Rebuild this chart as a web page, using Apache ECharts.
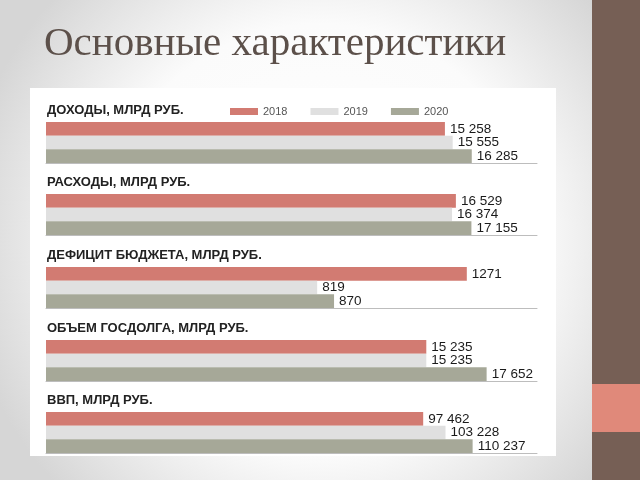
<!DOCTYPE html>
<html>
<head>
<meta charset="utf-8">
<script src="https://cdn.jsdelivr.net/npm/echarts@6/dist/echarts.min.js"></script>
<style>html,body{margin:0;padding:0;}#c{width:640px;height:480px;}</style>
</head>
<body>
<div id="c"></div>
<script>
const slideTitle = 'Основные характеристики';
const groupTitles = ['ДОХОДЫ, МЛРД РУБ.', 'РАСХОДЫ, МЛРД РУБ.', 'ДЕФИЦИТ БЮДЖЕТА, МЛРД РУБ.', 'ОБЪЕМ ГОСДОЛГА, МЛРД РУБ.', 'ВВП, МЛРД РУБ.'];
const years = ['2018', '2019', '2020'];
const values2018 = [15258, 16529, 1271, 15235, 97462];
const values2019 = [15555, 16374, 819, 15235, 103228];
const values2020 = [16285, 17155, 870, 17652, 110237];

const seriesValues = [values2018, values2019, values2020];
const colors = ['#D27B72', '#E0E0E0', '#A6A898'];
const axisMax = [18780, 19800, 1483, 19670, 126870];
const gridTops = [122, 194, 267, 340, 412];
const gridH = 41;

function fmt(v) {
  if (v < 10000) return String(v);
  return String(v).replace(/\B(?=(\d{3})+(?!\d))/g, ' ');
}

const grids = [], xAxes = [], yAxes = [], series = [], graphics = [];

graphics.push({ type: 'rect', z: -10, shape: { x: 30, y: 88, width: 526, height: 368 }, style: { fill: '#ffffff' } });
graphics.push({ type: 'rect', z: -10, shape: { x: 592, y: 0, width: 48, height: 480 }, style: { fill: '#765F55' } });
graphics.push({ type: 'rect', z: -9, shape: { x: 592, y: 384, width: 48, height: 48 }, style: { fill: '#E0897A' } });
graphics.push({ type: 'text', z: 10, style: { text: slideTitle, x: 44, y: 44, verticalAlign: 'middle', font: '41px "Liberation Serif", "Times New Roman", serif', fill: '#5c504a' } });

groupTitles.forEach((t, g) => {
  grids.push({ left: 46, right: 103, top: gridTops[g], height: gridH, containLabel: false });
  xAxes.push({
    gridIndex: g, type: 'value', min: 0, max: axisMax[g],
    axisLine: { show: true, lineStyle: { color: '#bdbdbd', width: 1 } },
    axisTick: { show: false }, axisLabel: { show: false }, splitLine: { show: false }
  });
  yAxes.push({
    gridIndex: g, type: 'category', data: [t], inverse: true,
    axisLine: { show: false }, axisTick: { show: false }, axisLabel: { show: false }
  });
  graphics.push({ type: 'text', z: 10, style: { text: t, x: 47, y: gridTops[g] - 12, verticalAlign: 'middle', font: 'bold 13px "Liberation Sans", Arial, sans-serif', fill: '#222222' } });
  years.forEach((y, k) => {
    series.push({
      name: y, type: 'bar', xAxisIndex: g, yAxisIndex: g,
      data: [seriesValues[k][g]],
      barGap: '0%', barCategoryGap: '0%',
      itemStyle: { color: colors[k] },
      label: {
        show: true, position: 'right', distance: 5,
        formatter: p => fmt(p.value),
        fontSize: 13.5, color: '#1a1a1a', fontFamily: '"Liberation Sans", Arial, sans-serif'
      },
      emphasis: { disabled: true }, animation: false
    });
  });
});

const chart = echarts.init(document.getElementById('c'));
chart.setOption({
  animation: false,
  backgroundColor: {
    type: 'radial', x: 0.5, y: 0.5, r: 0.75,
    colorStops: [{ offset: 0, color: '#ffffff' }, { offset: 0.6, color: '#fbfbfb' }, { offset: 1, color: '#d6d6d6' }]
  },
  legend: {
    data: years, left: 225, top: 101, itemWidth: 28, itemHeight: 7, itemGap: 23, icon: 'rect',
    textStyle: { fontSize: 11, color: '#555', fontFamily: '"Liberation Sans", Arial, sans-serif' },
    selectedMode: false
  },
  grid: grids, xAxis: xAxes, yAxis: yAxes, series: series, graphic: graphics
});
</script>
</body>
</html>
